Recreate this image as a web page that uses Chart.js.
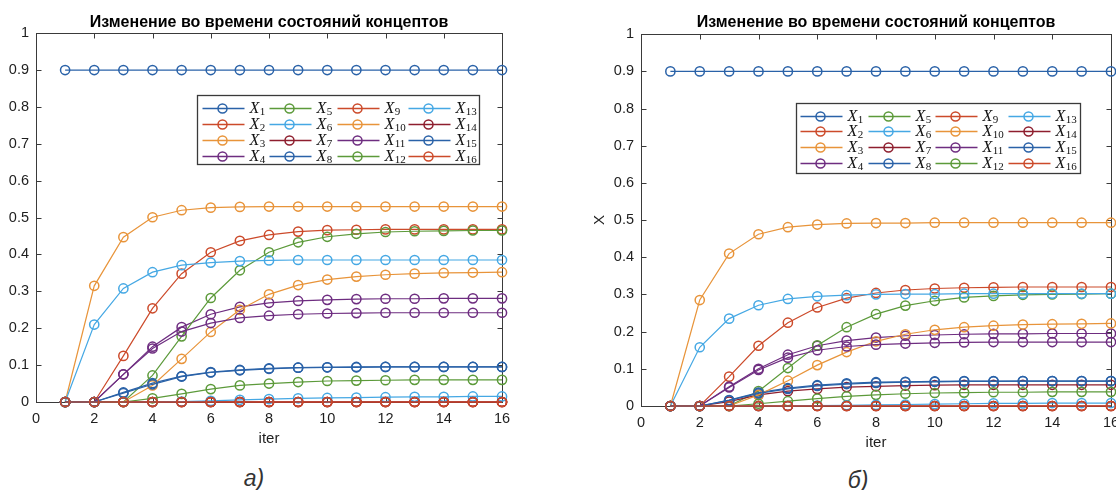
<!DOCTYPE html>
<html>
<head>
<meta charset="utf-8">
<script src="https://cdn.jsdelivr.net/npm/chart.js@4.4.0/dist/chart.umd.min.js"></script>
<style>
  html, body { margin: 0; padding: 0; background: #fff; width: 1116px; height: 490px; overflow: hidden; position: relative; }
  .box { position: absolute; top: 0; height: 460px; }
  #boxA { left: 0; width: 556px; }
  #boxB { left: 560px; width: 590px; }
  .caption { position: absolute; font: italic 23px "Liberation Sans", Arial, sans-serif; line-height: 24px; color: #333; transform: translateX(-50%); }
</style>
</head>
<body>
<div class="box" id="boxA"><canvas id="chartA"></canvas></div>
<div class="box" id="boxB"><canvas id="chartB"></canvas></div>
<div class="caption" style="left:254px; top:466px;">а)</div>
<div class="caption" style="left:858px; top:468px;">б)</div>
<script>
// Iterations (x axis)
const iters = [1, 2, 3, 4, 5, 6, 7, 8, 9, 10, 11, 12, 13, 14, 15, 16];
const seriesNames = ['1', '2', '3', '4', '5', '6', '7', '8', '9', '10', '11', '12', '13', '14', '15', '16'];
const titleText = 'Изменение во времени состояний концептов';

// Chart а) values
const aX1 = [0.9, 0.9, 0.9, 0.9, 0.9, 0.9, 0.9, 0.9, 0.9, 0.9, 0.9, 0.9, 0.9, 0.9, 0.9, 0.9];
const aX2 = [0, 0, 0.125, 0.254, 0.348, 0.406, 0.437, 0.453, 0.462, 0.466, 0.467, 0.468, 0.468, 0.468, 0.468, 0.468];
const aX3 = [0, 0.315, 0.447, 0.501, 0.520, 0.527, 0.529, 0.530, 0.530, 0.530, 0.530, 0.530, 0.530, 0.530, 0.530, 0.530];
const aX4 = [0, 0, 0.075, 0.150, 0.203, 0.238, 0.258, 0.269, 0.274, 0.277, 0.279, 0.280, 0.280, 0.281, 0.281, 0.281];
const aX5 = [0, 0, 0, 0.072, 0.178, 0.282, 0.357, 0.406, 0.433, 0.448, 0.456, 0.461, 0.463, 0.464, 0.465, 0.465];
const aX6 = [0, 0.210, 0.308, 0.352, 0.371, 0.378, 0.382, 0.384, 0.385, 0.385, 0.385, 0.385, 0.385, 0.385, 0.385, 0.385];
const aX7 = [0, 0, 0, 0, 0, 0, 0, 0, 0, 0, 0, 0, 0, 0, 0, 0];
const aX8 = [0, 0, 0.026, 0.051, 0.070, 0.081, 0.087, 0.091, 0.093, 0.094, 0.095, 0.095, 0.095, 0.095, 0.095, 0.095];
const aX9 = [0, 0, 0, 0, 0, 0, 0, 0, 0, 0, 0, 0, 0, 0, 0, 0];
const aX10 = [0, 0, 0, 0.045, 0.117, 0.190, 0.250, 0.292, 0.317, 0.332, 0.340, 0.345, 0.348, 0.350, 0.351, 0.352];
const aX11 = [0, 0, 0.075, 0.145, 0.191, 0.214, 0.228, 0.234, 0.238, 0.240, 0.241, 0.242, 0.242, 0.242, 0.242, 0.242];
const aX12 = [0, 0, 0, 0.010, 0.022, 0.035, 0.045, 0.050, 0.054, 0.057, 0.058, 0.059, 0.060, 0.060, 0.060, 0.060];
const aX13 = [0, 0, 0, 0, 0.001, 0.003, 0.006, 0.008, 0.010, 0.011, 0.012, 0.013, 0.014, 0.014, 0.015, 0.015];
const aX14 = [0, 0, 0, 0, 0, 0, 0, 0, 0, 0, 0, 0, 0, 0, 0, 0];
const aX15 = [0, 0, 0.024, 0.048, 0.069, 0.080, 0.086, 0.090, 0.093, 0.094, 0.094, 0.095, 0.095, 0.095, 0.095, 0.095];
const aX16 = [0, 0, 0, 0, 0, 0, 0, 0, 0, 0, 0, 0, 0, 0, 0, 0];

// Chart б) values
const bX1 = [0.9, 0.9, 0.9, 0.9, 0.9, 0.9, 0.9, 0.9, 0.9, 0.9, 0.9, 0.9, 0.9, 0.9, 0.9, 0.9];
const bX2 = [0, 0, 0.079, 0.162, 0.224, 0.265, 0.290, 0.304, 0.312, 0.316, 0.318, 0.319, 0.320, 0.320, 0.320, 0.320];
const bX3 = [0, 0.285, 0.410, 0.462, 0.481, 0.488, 0.491, 0.492, 0.492, 0.493, 0.493, 0.493, 0.493, 0.493, 0.493, 0.493];
const bX4 = [0, 0, 0.052, 0.100, 0.138, 0.162, 0.176, 0.184, 0.189, 0.191, 0.193, 0.194, 0.194, 0.195, 0.195, 0.195];
const bX5 = [0, 0, 0, 0.040, 0.102, 0.163, 0.212, 0.247, 0.270, 0.283, 0.292, 0.296, 0.299, 0.300, 0.301, 0.302];
const bX6 = [0, 0.158, 0.235, 0.271, 0.288, 0.295, 0.298, 0.300, 0.301, 0.301, 0.302, 0.302, 0.302, 0.302, 0.302, 0.302];
const bX7 = [0, 0, 0.012, 0.030, 0.040, 0.046, 0.051, 0.053, 0.055, 0.056, 0.057, 0.057, 0.057, 0.057, 0.057, 0.057];
const bX8 = [0, 0, 0.016, 0.036, 0.048, 0.056, 0.061, 0.064, 0.065, 0.066, 0.067, 0.067, 0.067, 0.067, 0.067, 0.067];
const bX9 = [0, 0, 0, 0, 0, 0, 0, 0, 0, 0, 0, 0, 0, 0, 0, 0];
const bX10 = [0, 0, 0, 0.030, 0.068, 0.110, 0.145, 0.174, 0.193, 0.205, 0.212, 0.216, 0.219, 0.220, 0.221, 0.222];
const bX11 = [0, 0, 0.050, 0.097, 0.130, 0.150, 0.160, 0.165, 0.168, 0.170, 0.171, 0.172, 0.172, 0.172, 0.172, 0.172];
const bX12 = [0, 0, 0, 0.006, 0.013, 0.020, 0.026, 0.030, 0.033, 0.035, 0.036, 0.037, 0.037, 0.038, 0.038, 0.038];
const bX13 = [0, 0, 0, 0, 0, 0.001, 0.002, 0.003, 0.004, 0.005, 0.006, 0.007, 0.007, 0.008, 0.008, 0.008];
const bX14 = [0, 0, 0, 0, 0, 0, 0, 0, 0, 0, 0, 0, 0, 0, 0, 0];
const bX15 = [0, 0, 0.015, 0.034, 0.046, 0.054, 0.059, 0.062, 0.064, 0.065, 0.066, 0.066, 0.067, 0.067, 0.067, 0.067];
const bX16 = [0, 0, 0, 0, 0, 0, 0, 0, 0, 0, 0, 0, 0, 0, 0, 0];

const seriesA = [aX1, aX2, aX3, aX4, aX5, aX6, aX7, aX8, aX9, aX10, aX11, aX12, aX13, aX14, aX15, aX16];
const seriesB = [bX1, bX2, bX3, bX4, bX5, bX6, bX7, bX8, bX9, bX10, bX11, bX12, bX13, bX14, bX15, bX16];

// MATLAB-like colour order (7 colours, repeating)
const palette = ['#2a62a8', '#cc4a2a', '#e8943a', '#6e2d80', '#5c9a3a', '#45a8e4', '#8e1e2e'];
const axisColor = '#3a3a3a';
const textColor = '#1e1e1e';
const tickFont = { family: '"Liberation Sans", Arial, sans-serif', size: 14.5 };

// Box around the axes with inward tick marks
const boxPlugin = {
  id: 'matlabBox',
  beforeDatasetsDraw(chart) {
    const { ctx, chartArea: a, scales: { x, y } } = chart;
    const l = Math.round(a.left) + 0.5, r = Math.round(a.right) + 0.5;
    const t = Math.round(a.top) + 0.5, b = Math.round(a.bottom) + 0.5;
    ctx.save();
    ctx.strokeStyle = axisColor;
    ctx.lineWidth = 1;
    ctx.strokeRect(l, t, r - l, b - t);
    ctx.beginPath();
    x.ticks.forEach(tk => {
      const px = Math.round(x.getPixelForValue(tk.value)) + 0.5;
      ctx.moveTo(px, b); ctx.lineTo(px, b - 5);
      ctx.moveTo(px, t); ctx.lineTo(px, t + 5);
    });
    y.ticks.forEach(tk => {
      const py = Math.round(y.getPixelForValue(tk.value)) + 0.5;
      ctx.moveTo(l, py); ctx.lineTo(l + 5, py);
      ctx.moveTo(r, py); ctx.lineTo(r - 5, py);
    });
    ctx.stroke();
    ctx.restore();
  }
};

// Legend inside the axes, four columns filled top to bottom
const legendPlugin = {
  id: 'matlabLegend',
  afterDatasetsDraw(chart, args, opts) {
    const { ctx, chartArea: a } = chart;
    const bx = Math.round(a.left + opts.dx) + 0.5;
    const by = Math.round(a.top + opts.dy) + 0.5;
    ctx.save();
    ctx.fillStyle = '#fff';
    ctx.fillRect(bx, by, opts.w, opts.h);
    ctx.strokeStyle = axisColor;
    ctx.lineWidth = 1.3;
    ctx.strokeRect(bx, by, opts.w, opts.h);
    chart.data.datasets.forEach((ds, i) => {
      const col = Math.floor(i / 4), row = i % 4;
      const x0 = bx + opts.cols[col], yy = by + opts.rows[row];
      ctx.strokeStyle = ds.borderColor;
      ctx.lineWidth = 1.3;
      ctx.beginPath();
      ctx.moveTo(x0, yy); ctx.lineTo(x0 + 42, yy);
      ctx.stroke();
      ctx.lineWidth = 1.5;
      ctx.beginPath();
      ctx.arc(x0 + 20, yy, 4.5, 0, Math.PI * 2);
      ctx.stroke();
      ctx.fillStyle = '#111';
      ctx.textBaseline = 'middle';
      ctx.font = 'italic 16px "Liberation Serif", "Times New Roman", serif';
      ctx.fillText('X', x0 + 47, yy);
      const w = ctx.measureText('X').width;
      ctx.font = '11px "Liberation Serif", "Times New Roman", serif';
      ctx.fillText(seriesNames[i], x0 + 47 + w + 0.5, yy + 4);
    });
    ctx.restore();
  }
};

// Build one chart panel
function makeChart(canvasId, series, cfg) {
  const datasets = series.map((vals, i) => ({
    label: 'X' + seriesNames[i],
    data: iters.map((it, k) => ({ x: it, y: vals[k] })),
    borderColor: palette[i % palette.length],
    borderWidth: 1.2,
    pointStyle: 'circle',
    pointRadius: 4.6,
    pointHoverRadius: 4.6,
    pointBorderWidth: 1.5,
    pointBackgroundColor: 'rgba(0,0,0,0)',
    tension: 0,
    clip: false,
    order: series.length - i
  }));

  return new Chart(document.getElementById(canvasId), {
    type: 'line',
    data: { datasets },
    plugins: [boxPlugin, legendPlugin],
    options: {
      responsive: true,
      maintainAspectRatio: false,
      animation: false,
      layout: { padding: { left: 0, right: cfg.padRight, top: 0, bottom: 0 } },
      plugins: {
        legend: { display: false },
        tooltip: { enabled: false },
        title: {
          display: true,
          text: titleText,
          fullSize: false,
          color: '#000',
          font: { family: '"Liberation Sans", Arial, sans-serif', size: 16, weight: 'bold' },
          padding: cfg.titlePad
        },
        matlabLegend: cfg.legend
      },
      scales: {
        x: {
          type: 'linear',
          min: 0,
          max: 16,
          grid: { display: false, drawTicks: false },
          border: { display: false },
          ticks: { stepSize: 2, color: textColor, font: tickFont, padding: 8, maxRotation: 0 },
          title: {
            display: true, text: 'iter', color: textColor,
            font: { family: '"Liberation Sans", Arial, sans-serif', size: 15 },
            padding: { top: 0, bottom: cfg.xTitlePad }
          },
          afterFit(scale) { scale.height = cfg.xHeight; }
        },
        y: {
          min: 0,
          max: 1,
          grid: { display: false, drawTicks: false },
          border: { display: false },
          ticks: {
            stepSize: 0.1, color: textColor, font: tickFont, padding: 7,
            callback: v => String(Math.round(v * 10) / 10)
          },
          title: {
            display: !!cfg.yTitle, text: cfg.yTitle || '', color: textColor,
            font: { family: '"Liberation Sans", Arial, sans-serif', size: 15 },
            padding: { top: 31, bottom: 0 }
          },
          afterFit(scale) { scale.width = cfg.yWidth; }
        }
      }
    }
  });
}

makeChart('chartA', seriesA, {
  padRight: 54,
  yWidth: 36,
  xHeight: 58,
  xTitlePad: 12,
  titlePad: { top: 13, bottom: 1 },
  yTitle: null,
  legend: { dx: 161, dy: 62, w: 282, h: 69, cols: [5, 72, 140, 211], rows: [13, 29, 45, 61] }
});

makeChart('chartB', seriesB, {
  padRight: 39,
  yWidth: 81,
  xHeight: 54,
  xTitlePad: 8,
  titlePad: { top: 13, bottom: 2 },
  yTitle: 'X',
  legend: { dx: 155, dy: 69, w: 284, h: 70, cols: [4, 72, 139, 212], rows: [13, 28, 44, 60] }
});
</script>
</body>
</html>
